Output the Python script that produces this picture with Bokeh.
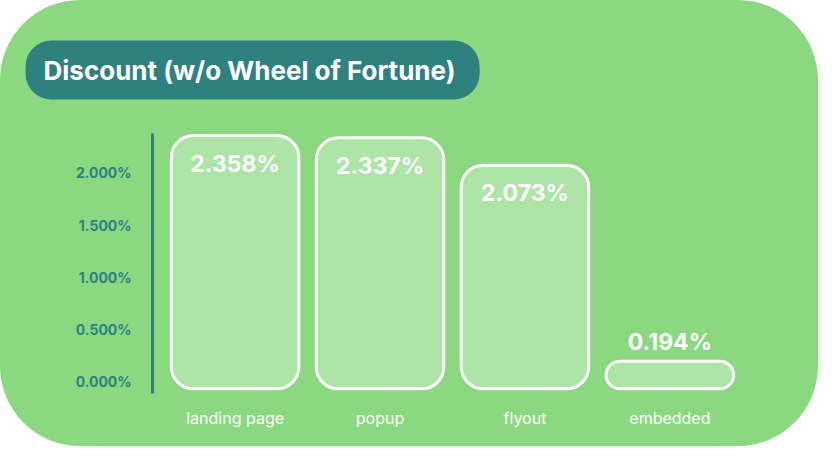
from bokeh.plotting import figure
from bokeh.models import ColumnDataSource, FactorRange, Range1d, FixedTicker, PrintfTickFormatter
from bokeh.core.properties import value
from bokeh.embed import file_html
from bokeh.resources import INLINE

# ---- data ----
categories = ["landing page", "popup", "flyout", "embedded"]
discount_pct = [2.358, 2.337, 2.073, 0.194]
y_ticks = [0.0, 0.5, 1.0, 1.5, 2.0]
title_text = "Discount (w/o Wheel  of Fortune)"

# ---- style ----
GREEN = "#8AD880"
TEAL = "#2E817E"
BAR_FILL = "#AEE4A7"
WHITE = "#FFFFFF"

labels = ["%.3f%%" % v for v in discount_pct]
inside = [v > 0.5 for v in discount_pct]
offsets = [28 if i else -19 for i in inside]

src = ColumnDataSource(dict(cat=categories, val=discount_pct, lab=labels, off=offsets))

p = figure(
    width=818, height=446,
    x_range=FactorRange(factors=categories, range_padding=0.07, range_padding_units="absolute"),
    y_range=Range1d(-0.115, 2.378),
    output_backend="svg", toolbar_location=None,
    min_border_left=152, min_border_right=66, min_border_top=133, min_border_bottom=53,
    background_fill_color=None, border_fill_color=None,
    styles={"background-color": GREEN, "border-radius": "80px", "overflow": "hidden"},
)
p.outline_line_color = None
p.grid.visible = False

p.vbar(x="cat", top="val", bottom=-0.07, width=0.88, source=src,
       fill_color=BAR_FILL, line_color=WHITE, line_width=3, border_radius=22)

p.text(x="cat", y="val", text="lab", y_offset="off", source=src,
       text_align="center", text_baseline="middle", text_color=WHITE,
       text_font=value("Inter"), text_font_style="bold", text_font_size="23px")

# y axis
ya = p.yaxis[0]
ya.ticker = FixedTicker(ticks=y_ticks)
ya.formatter = PrintfTickFormatter(format="%.3f%%")
ya.axis_line_color = TEAL
ya.axis_line_width = 3
ya.major_tick_line_color = None
ya.minor_tick_line_color = None
ya.major_label_text_color = TEAL
ya.major_label_text_font = "Inter"
ya.major_label_text_font_style = "bold"
ya.major_label_text_font_size = "14px"
ya.major_label_standoff = 15

# x axis
xa = p.xaxis[0]
xa.axis_line_color = None
xa.major_tick_line_color = None
xa.minor_tick_line_color = None
xa.major_label_text_color = WHITE
xa.major_label_text_font = "Inter"
xa.major_label_text_font_size = "16px"
xa.major_label_standoff = 8

# title pill
t = p.title
t.text = title_text
t.align = "left"
t.offset = -127
t.standoff = 68
t.text_color = WHITE
t.text_font = "Inter"
t.text_font_style = "bold"
t.text_font_size = "26px"
t.background_fill_color = TEAL
t.border_radius = 26
t.padding = (18, 14)

open("out.html", "w").write(file_html(p, INLINE))
